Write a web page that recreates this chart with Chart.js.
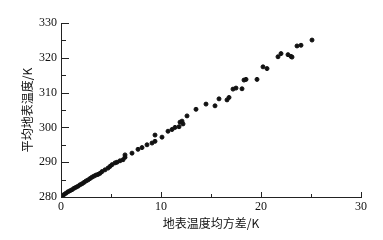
<!DOCTYPE html>
<html>
<head>
<meta charset="utf-8">
<script src="https://cdn.jsdelivr.net/npm/chart.js@4.4.0/dist/chart.umd.min.js"></script>
<style>
  html, body { margin: 0; padding: 0; background: #fff; }
  #wrap { width: 383px; height: 240px; }
</style>
</head>
<body>
<div id="wrap"><canvas id="chart" width="383" height="240"></canvas></div>
<script>
// 地表温度均方差 (K)
const sigmaVals = [
    0.0, 0.1, 0.3, 0.5, 0.7, 0.9, 1.1, 1.3, 1.5, 1.7,
    1.9, 2.1, 2.3, 2.5, 2.7, 2.9, 3.1, 3.3, 3.5, 3.7,
    3.9, 4.1, 4.4, 4.7, 4.9, 5.1, 5.4, 5.6, 5.9, 6.2,
    6.4, 6.4, 7.1, 7.7, 8.1, 8.6, 9.1, 9.4, 9.4, 10.1,
    10.7, 11.1, 11.4, 11.8, 11.9, 12.1, 12.2, 12.6, 13.5, 14.5,
    15.4, 15.8, 16.6, 16.8, 17.2, 17.5, 18.1, 18.3, 18.5, 19.6,
    20.2, 20.6, 21.7, 22.0, 22.7, 23.0, 23.1, 23.6, 24.0, 25.1
];
// 平均地表温度 (K)
const tempVals = [
    280.0, 280.3, 280.7, 281.1, 281.5, 281.8, 282.1, 282.5, 282.8, 283.1,
    283.5, 283.8, 284.2, 284.6, 284.9, 285.3, 285.7, 286.0, 286.3, 286.5,
    286.8, 287.3, 287.8, 288.3, 288.8, 289.3, 289.8, 290.0, 290.4, 290.7,
    291.4, 292.1, 292.6, 293.7, 294.2, 295.0, 295.5, 296.0, 297.8, 297.2,
    298.9, 299.4, 300.0, 300.2, 301.5, 301.8, 301.0, 303.3, 305.2, 306.7,
    306.2, 308.2, 307.9, 308.6, 311.0, 311.3, 311.1, 313.6, 313.8, 313.8,
    317.4, 316.9, 320.3, 321.2, 320.9, 320.4, 320.2, 323.4, 323.6, 325.1
];

const xMajorTicks = [0, 10, 20, 30];
const xMinorTicks = [5, 15, 25];
const yMajorTicks = [280, 290, 300, 310, 320, 330];
const yMinorTicks = [285, 295, 305, 315, 325];

const points = sigmaVals.map((s, i) => ({ x: s, y: tempVals[i] }));

const serif = '"Liberation Serif", "DejaVu Serif", serif';
const cjk = '"Noto Sans CJK SC", sans-serif';

// 刻度线朝内
const insideTicks = {
    id: 'insideTicks',
    afterDraw(chart) {
        const { ctx, chartArea, scales } = chart;
        ctx.save();
        ctx.strokeStyle = '#222';
        ctx.lineWidth = 1;
        const drawX = (vals, len) => {
            vals.forEach(v => {
                const px = Math.round(scales.x.getPixelForValue(v)) + 0.5;
                ctx.beginPath();
                ctx.moveTo(px, chartArea.bottom);
                ctx.lineTo(px, chartArea.bottom - len);
                ctx.stroke();
            });
        };
        const drawY = (vals, len) => {
            vals.forEach(v => {
                const py = Math.round(scales.y.getPixelForValue(v)) + 0.5;
                ctx.beginPath();
                ctx.moveTo(chartArea.left, py);
                ctx.lineTo(chartArea.left + len, py);
                ctx.stroke();
            });
        };
        drawX(xMajorTicks, 5);
        drawX(xMinorTicks, 3);
        drawY(yMajorTicks, 8);
        drawY(yMinorTicks, 5);
        ctx.restore();
    }
};

new Chart(document.getElementById('chart').getContext('2d'), {
    type: 'scatter',
    data: {
        datasets: [{
            data: points,
            backgroundColor: '#111',
            borderColor: '#111',
            pointRadius: 2,
            pointHoverRadius: 2
        }]
    },
    options: {
        responsive: false,
        animation: false,
        layout: { padding: { left: 0, right: 22, top: 23, bottom: 0 } },
        plugins: {
            legend: { display: false },
            tooltip: { enabled: false }
        },
        scales: {
            x: {
                type: 'linear',
                min: 0,
                max: 30,
                afterFit: scale => { scale.height = 43; },
                grid: { display: true, drawOnChartArea: false, drawTicks: false },
                border: { display: true, color: '#222', width: 1 },
                ticks: {
                    stepSize: 10,
                    padding: 3,
                    color: '#111',
                    font: { family: serif, size: 12 }
                },
                title: {
                    display: true,
                    text: '地表温度均方差/K',
                    color: '#111',
                    font: { family: cjk, size: 12 },
                    padding: { top: 0, bottom: 9 }
                }
            },
            y: {
                type: 'linear',
                min: 280,
                max: 330,
                afterFit: scale => { scale.width = 61; },
                grid: { display: true, drawOnChartArea: false, drawTicks: false },
                border: { display: true, color: '#222', width: 1 },
                ticks: {
                    stepSize: 10,
                    padding: 4,
                    color: '#111',
                    font: { family: serif, size: 12 }
                },
                title: {
                    display: true,
                    text: '平均地表温度/K',
                    color: '#111',
                    font: { family: cjk, size: 12 },
                    padding: { top: 20, bottom: 0 }
                }
            }
        }
    },
    plugins: [insideTicks]
});
</script>
</body>
</html>
